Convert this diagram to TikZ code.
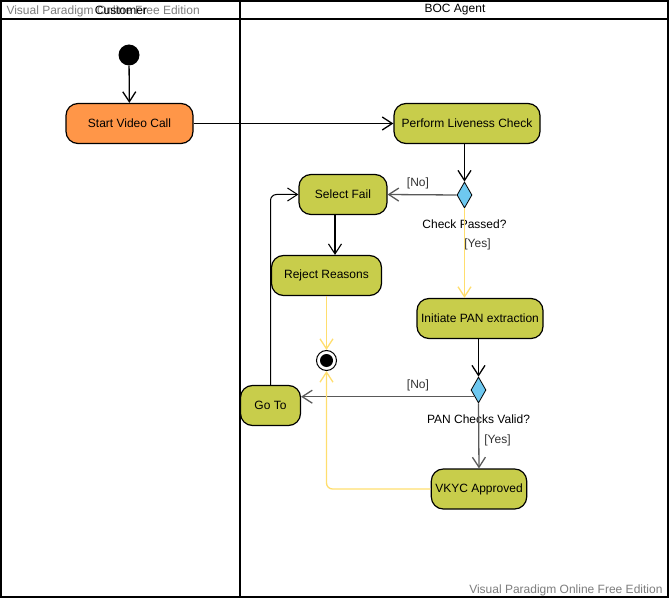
\documentclass[tikz,border=0pt]{standalone}
\usepackage{fontspec}
\setmainfont{Liberation Sans}
\usetikzlibrary{shapes.geometric, arrows.meta, positioning, calc}

\definecolor{startorange}{RGB}{255,150,72}
\definecolor{actgreen}{RGB}{200,205,75}
\definecolor{decblue}{RGB}{110,200,240}
\definecolor{yesyellow}{RGB}{255,222,110}
\definecolor{markgray}{RGB}{125,125,125}

\tikzset{
	activity/.style={draw, rounded corners=12pt, line width=1.2pt, fill=actgreen, minimum height=40pt, inner xsep=4pt},
	decision/.style={diamond, draw, fill=decblue, minimum width=15pt, minimum height=26pt, inner sep=0pt, line width=0.8pt},
	startdot/.style={circle, fill=black, minimum size=21pt, inner sep=0pt},
	enddot/.style={circle, draw, fill=white, line width=1pt, minimum size=20pt, inner sep=0pt,
		path picture={\fill[black] (path picture bounding box.center) circle (6.5pt);}},
	flow/.style={line width=1.3pt, -{Straight Barb[length=10pt,width=13pt]}},
	flowgray/.style={flow, draw=black!65},
	flowyellow/.style={flow, draw=yesyellow},
	lane/.style={line width=2pt},
	guard/.style={text=black!80}
}

\begin{document}
\begin{tikzpicture}[x=1pt, y=-1pt, font=\fontsize{12}{14}\selectfont]
		\useasboundingbox (0,0) rectangle (670,599);
		
		% Lanes
		\draw[lane] (1,1) rectangle (668,597);
		\draw[lane] (1,19.5) -- (668,19.5);
		\draw[lane] (240,1) -- (240,597);
		\node[anchor=west, text=markgray] (wm1) at (3,11) {Visual Paradigm Online Free Edition};
		\node (cust) at (121,10) {Customer};
		\node (boc) at (455,10) {BOC Agent};
		\node[anchor=east, text=markgray] (wm2) at (666,590) {Visual Paradigm Online Free Edition};
		
		% Nodes
		\node[startdot] (init) at (129,55) {};
		\node[activity, fill=startorange, minimum width=127pt] (svc) at (129.5,123.5) {Start Video Call};
		\node[activity, minimum width=146pt] (plc) at (467,123.5) {Perform Liveness Check};
		\node[decision] (d1) at (464.5,195) {};
		\node[below=8pt of d1] (cp) {Check Passed?};
		\node[activity, minimum width=88pt] (sel) at (343,194.5) {Select Fail};
		\node[activity, minimum width=110pt] (rej) at (326.5,275.5) {Reject Reasons};
		\node[activity, minimum width=126pt] (pan) at (480,318.5) {Initiate PAN extraction};
		\node[enddot] (fin) at (326.5,360.5) {};
		\node[decision] (d2) at (478.5,390) {};
		\node[below=8pt of d2] (pcv) {PAN Checks Valid?};
		\node[activity, minimum width=60pt] (goto) at (270.5,405.5) {Go To};
		\node[activity, minimum width=92pt] (vkyc) at (479,489) {VKYC Approved};
		
		% Flows
		\draw[flow] (init) -- (svc);
		\draw[flow] (svc) -- (plc);
		\draw[flow] (plc.south -| d1) -- (d1.north);
		\draw[flowgray] (d1.west) -- (sel.east);
		\node[guard] (no1) at (418,183) {[No]};
		\draw[flowyellow] (d1.south) -- (d1.south |- pan.north);
		\node[guard] (yes1) at (477.5,244) {[Yes]};
		\draw[flow, line width=1.1pt] ([xshift=-8pt]sel.south) -- ([xshift=-8pt]sel.south |- rej.north);
		\draw[flowyellow] (rej.south -| fin) -- (fin.north);
		\draw[flow] (pan.south -| d2) -- (d2.north);
		\draw[flowgray] (d2.south west) -- (d2.south west -| goto.east);
		\node[guard] (no2) at (418,385) {[No]};
		\draw[flowgray] (d2.south) -- (vkyc.north);
		\node[guard] (yes2) at (497.5,440) {[Yes]};
		\draw[flowyellow, rounded corners=6pt] (vkyc.west) -| (fin.south);
		\draw[flow, line width=1pt, rounded corners=6pt] (goto.north) |- (sel.west);
	  \end{tikzpicture}
\end{document}
